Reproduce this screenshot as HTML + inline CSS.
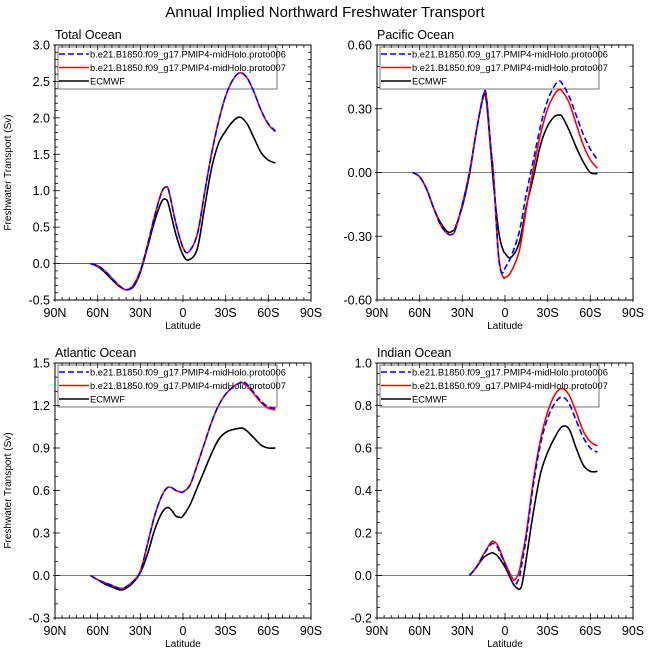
<!DOCTYPE html>
<html><head><meta charset="utf-8">
<style>
html,body{margin:0;padding:0;background:#fff;}
svg{display:block;font-family:"Liberation Sans",Arial,sans-serif;}
</style></head>
<body>
<svg id="chart" width="649" height="662" viewBox="0 0 649 662" xmlns="http://www.w3.org/2000/svg">
<text x="325" y="17" text-anchor="middle" font-size="15">Annual Implied Northward Freshwater Transport</text>
</svg>
<script>
// ---- data (latitude: positive = North) ----
const totalLat = [65,60,55,50,45,40,35,30,25,20,15,12,10,5,0,-4,-10,-15,-20,-25,-30,-35,-40,-45,-50,-55,-60,-65];
const total006 = [0,-0.03,-0.1,-0.2,-0.3,-0.36,-0.3,-0.1,0.25,0.65,0.98,1.05,1.0,0.55,0.22,0.16,0.4,0.95,1.5,1.95,2.3,2.52,2.62,2.55,2.35,2.1,1.92,1.82];
const total007 = [0,-0.03,-0.1,-0.2,-0.3,-0.36,-0.3,-0.1,0.25,0.65,0.98,1.05,1.0,0.55,0.22,0.16,0.4,0.95,1.5,1.95,2.3,2.52,2.62,2.55,2.35,2.1,1.91,1.81];
const totalEC  = [0,-0.04,-0.12,-0.22,-0.31,-0.36,-0.32,-0.12,0.22,0.58,0.85,0.88,0.8,0.4,0.12,0.05,0.2,0.75,1.3,1.65,1.82,1.95,2.01,1.92,1.72,1.52,1.42,1.38];

const pacLat = [65,60,55,50,45,40,37,35,30,25,20,15,13,10,8,5,3,1,0,-4,-10,-15,-20,-25,-30,-35,-38,-40,-45,-50,-55,-60,-65];
const pac006 = [0,-0.02,-0.08,-0.17,-0.25,-0.29,-0.29,-0.27,-0.15,0.0,0.2,0.37,0.35,0.12,-0.02,-0.36,-0.46,-0.47,-0.45,-0.4,-0.28,-0.1,0.06,0.22,0.34,0.41,0.43,0.42,0.36,0.27,0.18,0.11,0.06];
const pac007 = [0,-0.02,-0.08,-0.17,-0.25,-0.29,-0.29,-0.27,-0.15,0.0,0.2,0.37,0.35,0.12,-0.02,-0.35,-0.46,-0.495,-0.495,-0.47,-0.37,-0.17,0.02,0.18,0.3,0.37,0.39,0.385,0.33,0.23,0.13,0.06,0.02];
const pacEC  = [0,-0.02,-0.08,-0.17,-0.24,-0.28,-0.275,-0.26,-0.16,-0.01,0.2,0.36,0.33,0.1,-0.06,-0.25,-0.33,-0.37,-0.38,-0.4,-0.33,-0.16,-0.02,0.13,0.22,0.265,0.27,0.265,0.2,0.12,0.05,0.0,-0.005];

const atlLat = [65,60,55,50,45,42,40,35,30,25,20,15,11,8,5,2,0,-5,-10,-15,-20,-25,-30,-35,-40,-42,-45,-50,-55,-60,-65];
const atl006 = [0,-0.03,-0.05,-0.07,-0.09,-0.09,-0.08,-0.04,0.03,0.22,0.42,0.56,0.62,0.62,0.6,0.59,0.59,0.64,0.78,0.93,1.08,1.2,1.28,1.33,1.36,1.37,1.35,1.29,1.23,1.19,1.18];
const atl007 = [0,-0.03,-0.05,-0.07,-0.09,-0.09,-0.08,-0.04,0.03,0.22,0.42,0.56,0.62,0.62,0.6,0.59,0.59,0.64,0.78,0.93,1.08,1.2,1.28,1.33,1.36,1.36,1.34,1.28,1.22,1.18,1.17];
const atlEC  = [0,-0.03,-0.06,-0.08,-0.1,-0.1,-0.09,-0.05,0.02,0.15,0.32,0.44,0.48,0.46,0.42,0.41,0.42,0.5,0.62,0.74,0.86,0.96,1.01,1.03,1.04,1.04,1.02,0.97,0.92,0.9,0.9];

const indLat = [25,20,15,10,8,5,0,-5,-7,-10,-12,-15,-20,-25,-30,-35,-40,-45,-50,-55,-60,-65];
const ind006 = [0,0.04,0.1,0.145,0.15,0.13,0.05,-0.03,-0.045,-0.01,0.06,0.18,0.43,0.62,0.74,0.81,0.84,0.81,0.73,0.65,0.6,0.58];
const ind007 = [0,0.04,0.1,0.155,0.16,0.14,0.06,-0.01,-0.02,0.02,0.09,0.2,0.45,0.64,0.77,0.85,0.88,0.85,0.77,0.68,0.63,0.61];
const indEC  = [0,0.04,0.085,0.105,0.105,0.09,0.04,-0.03,-0.05,-0.065,-0.04,0.08,0.3,0.48,0.58,0.65,0.7,0.69,0.6,0.52,0.49,0.49];

const xTickVals = [90,60,30,0,-30,-60,-90];
const xTickLabels = ["90N","60N","30N","0","30S","60S","90S"];
const totalYTicks = [-0.5,0,0.5,1,1.5,2,2.5,3];
const totalYLabels = ["-0.5","0.0","0.5","1.0","1.5","2.0","2.5","3.0"];
const pacYTicks = [-0.6,-0.3,0,0.3,0.6];
const pacYLabels = ["-0.60","-0.30","0.00","0.30","0.60"];
const atlYTicks = [-0.3,0,0.3,0.6,0.9,1.2,1.5];
const atlYLabels = ["-0.3","0.0","0.3","0.6","0.9","1.2","1.5"];
const indYTicks = [-0.2,0,0.2,0.4,0.6,0.8,1.0];
const indYLabels = ["-0.2","0.0","0.2","0.4","0.6","0.8","1.0"];
const legendLabels = ["b.e21.B1850.f09_g17.PMIP4-midHolo.proto006","b.e21.B1850.f09_g17.PMIP4-midHolo.proto007","ECMWF"];

const NS = "http://www.w3.org/2000/svg";
const svg = document.getElementById("chart");
function mk(tag, attrs, parent){
  const e = document.createElementNS(NS, tag);
  for (const k in attrs) e.setAttribute(k, attrs[k]);
  (parent||svg).appendChild(e);
  return e;
}
function smoothPath(pts){
  let d = "M" + pts[0][0].toFixed(2) + "," + pts[0][1].toFixed(2);
  for (let i=0;i<pts.length-1;i++){
    const p0 = pts[Math.max(0,i-1)], p1 = pts[i], p2 = pts[i+1], p3 = pts[Math.min(pts.length-1,i+2)];
    const c1x = p1[0] + (p2[0]-p0[0])/6, c1y = p1[1] + (p2[1]-p0[1])/6;
    const c2x = p2[0] - (p3[0]-p1[0])/6, c2y = p2[1] - (p3[1]-p1[1])/6;
    d += " C" + c1x.toFixed(2)+","+c1y.toFixed(2)+" "+c2x.toFixed(2)+","+c2y.toFixed(2)+" "+p2[0].toFixed(2)+","+p2[1].toFixed(2);
  }
  return d;
}

function panel(cfg){
  const L=cfg.x, T=cfg.y, W=256, H=255;
  const g = mk("g", {});
  
  
  const xs = v => L + (90 - v) / 180 * W;
  const ys = v => T + H - (v - cfg.ymin) / (cfg.ymax - cfg.ymin) * H;

  const t = mk("text", {x:L, y:T-6, "font-size":12.5}, g);
  t.textContent = cfg.title;
  
  

  const z = mk("line", {x1:L, x2:L+W, y1:ys(0), y2:ys(0), stroke:"#000", "stroke-width":0.6}, g);
  
  

  for (let v=-90; v<=90; v+=5){
    const x = xs(v);
    const major = (v % 30 === 0);
    const len = major ? 5 : 3;
    mk("line", {x1:x,x2:x,y1:T+H-len,y2:T+H+(major?2:0),stroke:"#000","stroke-width":0.8}, g);
    mk("line", {x1:x,x2:x,y1:T,y2:T+len,stroke:"#000","stroke-width":0.8}, g);
  }
  xTickVals.forEach((v,i)=>{
    const tx = mk("text", {x:xs(v), y:T+H+17, "font-size":12.5, "text-anchor":"middle"}, g);
    tx.textContent = xTickLabels[i];
    
    
  });
  const step = cfg.yt[1]-cfg.yt[0];
  const minor = step/ (cfg.minorN);
  for (let k=0; cfg.ymin + k*minor <= cfg.ymax + 1e-9; k++){
    const v = cfg.ymin + k*minor;
    const y = ys(v);
    const major = (k % cfg.minorN === 0);
    const len = major ? 5 : 3;
    mk("line", {x1:L-(major?2:0),x2:L+len,y1:y,y2:y,stroke:"#000","stroke-width":0.8}, g);
    mk("line", {x1:L+W-len,x2:L+W,y1:y,y2:y,stroke:"#000","stroke-width":0.8}, g);
  }
  cfg.yt.forEach((v,i)=>{
    const ty = mk("text", {x:L-5, y:ys(v)+4.5, "font-size":12.5, "text-anchor":"end"}, g);
    ty.textContent = cfg.yl[i];
    
    
  });
  const xt = mk("text", {x:L+W/2, y:T+H+29, "font-size":10, "text-anchor":"middle"}, g);
  xt.textContent = "Latitude";
  
  
  if (cfg.ytitle){
    const yt = mk("text", {x:0, y:0, "font-size":10, "text-anchor":"middle", transform:"translate("+(L-44)+","+(T+H/2)+") rotate(-90)"}, g);
    yt.textContent = "Freshwater Transport (Sv)";
    
    
  }

  // legend (drawn beneath the curves)
  const lg = mk("g", {}, g);
  
  
  mk("rect", {x:L+3, y:T+2, width:219, height:42, fill:"none", stroke:"#555", "stroke-width":0.8}, lg);
  const cols = ["#00f","#f00","#000"];
  legendLabels.forEach((lab,i)=>{
    const y = T + 9 + i*13.5;
    const ln = mk("line", {x1:L+4, x2:L+34, y1:y, y2:y, stroke:cols[i], "stroke-width":1.6}, lg);
    if (i===0) ln.setAttribute("stroke-dasharray","6,3");
    const tx = mk("text", {x:L+35, y:y+3.5, "font-size":9.3}, lg);
    tx.textContent = lab;
    
    
  });

  const series = [
    {vals:cfg.ec, color:"#000", dash:null, name:"series-ecmwf"},
    {vals:cfg.s7, color:"#f00", dash:null, name:"series-proto007"},
    {vals:cfg.s6, color:"#00f", dash:"6,3", name:"series-proto006"}
  ];
  series.forEach(s=>{
    const pts = cfg.lat.map((la,i)=>[xs(la), ys(s.vals[i])]);
    const p = mk("path", {d:smoothPath(pts), fill:"none", stroke:s.color, "stroke-width":1.6}, g);
    if (s.dash) p.setAttribute("stroke-dasharray", s.dash);
    
    
  });

  const fr = mk("rect", {x:L, y:T, width:W, height:H, fill:"none", stroke:"#000", "stroke-width":1}, g);
  
  
}

panel({name:"panel-total-ocean", title:"Total Ocean", x:55, y:45, ymin:-0.5, ymax:3.0, yt:totalYTicks, yl:totalYLabels, minorN:5, ytitle:true, lat:totalLat, s6:total006, s7:total007, ec:totalEC});
panel({name:"panel-pacific-ocean", title:"Pacific Ocean", x:377, y:45, ymin:-0.6, ymax:0.6, yt:pacYTicks, yl:pacYLabels, minorN:3, ytitle:false, lat:pacLat, s6:pac006, s7:pac007, ec:pacEC});
panel({name:"panel-atlantic-ocean", title:"Atlantic Ocean", x:55, y:363, ymin:-0.3, ymax:1.5, yt:atlYTicks, yl:atlYLabels, minorN:3, ytitle:true, lat:atlLat, s6:atl006, s7:atl007, ec:atlEC});
panel({name:"panel-indian-ocean", title:"Indian Ocean", x:377, y:363, ymin:-0.2, ymax:1.0, yt:indYTicks, yl:indYLabels, minorN:4, ytitle:false, lat:indLat, s6:ind006, s7:ind007, ec:indEC});
</script>
</body></html>
